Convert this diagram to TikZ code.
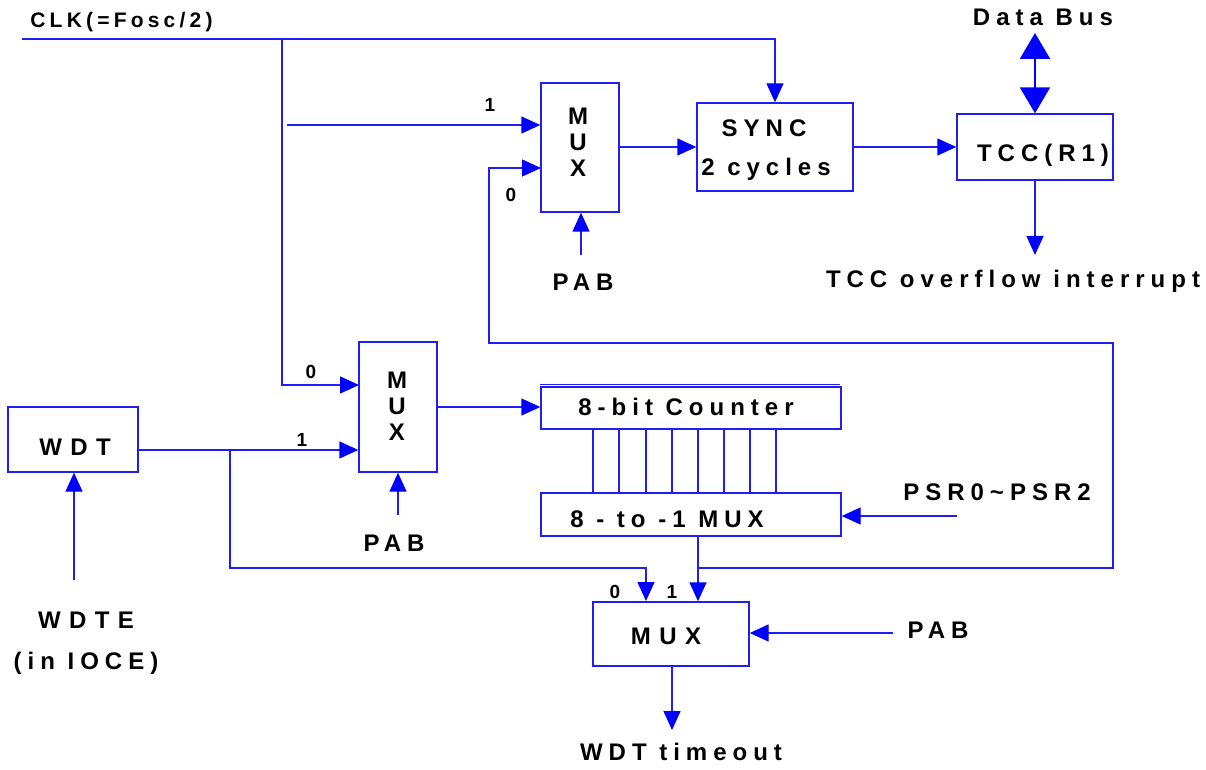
\documentclass[tikz,border=0pt]{standalone}
\usepackage{fontspec}
\usetikzlibrary{arrows.meta}
\newfontfamily\lbf{Liberation Sans}[LetterSpace=25]
\newfontfamily\lbw{Liberation Sans}[LetterSpace=35]
\newfontfamily\lbc{Liberation Sans}[LetterSpace=20]
\newfontfamily\lbs{Liberation Sans}[LetterSpace=10]
\newcommand{\myfbig}{\lbf\bfseries\fontsize{12}{13}\selectfont}
\newcommand{\myfwide}{\lbw\bfseries\fontsize{12}{13}\selectfont}
\newcommand{\myfclk}{\lbc\bfseries\fontsize{10.5}{12}\selectfont}
\newcommand{\myfsml}{\lbs\bfseries\fontsize{9.5}{11}\selectfont}
\tikzset{
  wire/.style={draw={rgb,255:red,30;green,30;blue,245}, line width=0.7pt},
  arr/.style={wire, -{Triangle[length=9.5pt,width=8.5pt,color=blue]}},
  dbarr/.style={draw=blue, line width=1.1pt, {Triangle[length=13pt,width=15pt]}-{Triangle[length=13pt,width=15pt]}},
  box/.style={draw={rgb,255:red,30;green,30;blue,245}, line width=0.7pt, inner sep=0pt, font=\myfbig},
  txt/.style={font=\myfbig, inner sep=0pt, text=black},
  wtxt/.style={font=\myfwide, inner sep=0pt, text=black},
  lab/.style={font=\myfsml, inner sep=0pt, text=black}
}
\begin{document}
\begin{tikzpicture}[x=0.5pt,y=-0.5pt]
\useasboundingbox (0,0) rectangle (1206,770);
% boxes
\node[box, minimum width=39pt, minimum height=64.5pt] (mux1) at (580,147.5) {};
\node[txt, align=center] (mux1t) at (578,142) {M\\U\\X};
\node[box, minimum width=78pt, minimum height=44pt] (sync) at (775,147) {};
\node[txt] (synct) at (764,128) {SYNC};
\node[txt] (syncc) at (766,169) {2 cycles};
\node[box, minimum width=78pt, minimum height=33pt] (tcc) at (1035,147) {};
\node[txt] (tcct) at (1043,155) {TCC(R1)};
\node[box, minimum width=39pt, minimum height=65pt] (mux2) at (398,407) {};
\node[txt, align=center] (mux2t) at (397,406) {M\\U\\X};
\node[box, minimum width=65pt, minimum height=32.5pt] (wdt) at (73,439.5) {};
\node[wtxt] (wdtt) at (75,447) {WDT};
\node[box, minimum width=150pt, minimum height=21pt] (cnt) at (691,408) {};
\draw[wire] (cnt.north west) ++(0,-2) -- ++(300,0);
\node[txt] (cntt) at (686,407) {8-bit Counter};
\node[box, minimum width=150pt, minimum height=21.5pt] (mux8) at (691,514.5) {};
\node[txt] (mux8t) at (667,519) {8 - to -1 MUX};
\node[box, minimum width=78pt, minimum height=32pt] (mux3) at (671,634) {};
\node[wtxt] (mux3t) at (666,636) {MUX};
% texts
\node[txt, font=\myfclk, anchor=west] (clk) at (30,22) {CLK(=Fosc/2)};
\node[txt] (dbus) at (1043,17) {Data Bus};
\node[lab] (l1a) at (490,105) {1};
\node[lab] (l0a) at (511,195) {0};
\node[txt] (pab1t) at (583,282) {PAB};
\node[txt] (ovft) at (1013,281) {TCC overflow interrupt};
\node[lab] (l0b) at (311,372) {0};
\node[lab] (l1b) at (302,440) {1};
\node[txt] (pab2t) at (394,543) {PAB};
\node[wtxt] (wdtet) at (86,620) {WDTE};
\node[txt] (iocet) at (86,663) {(in IOCE)};
\node[txt] (psrt) at (997,492) {PSR0\textasciitilde PSR2};
\node[lab] (l0c) at (615,592) {0};
\node[lab] (l1c) at (672,592) {1};
\node[txt] (pab3t) at (938,630) {PAB};
\node[txt] (wtot) at (681,752) {WDT timeout};
% coordinates
\coordinate (clk0) at (22,39);
\coordinate (j1) at (282,39);
\coordinate (m2in0) at (359,385);
\coordinate (t1s) at (287,125);
\coordinate (m1in0) at (541,168);
\coordinate (j8) at (698,568);
\coordinate (fb1) at (1113,568);
\coordinate (fb2) at (489,343);
\coordinate (db) at (1035,33);
\coordinate (ovf) at (1035,255);
\coordinate (pab1) at (581,255);
\coordinate (wo) at (138,450);
\coordinate (j2) at (230,450);
\coordinate (m3in0) at (646,601);
\coordinate (wdte) at (74,580);
\coordinate (pab2) at (398,515);
\coordinate (psr) at (957,516);
\coordinate (pab3) at (893,633);
\coordinate (wto) at (672,730);
% connectors
\draw[arr] (clk0) -| (sync.north);
\draw[arr] (j1) |- (m2in0);
\draw[arr] (t1s) -- (t1s -| mux1.west);
\draw[arr] (j8) -- (fb1) -- (fb1 |- fb2) -- (fb2) |- (m1in0);
\draw[arr] (mux1.east |- sync.west) -- (sync.west);
\draw[arr] (sync.east) -- (tcc.west);
\draw[dbarr] (db) -- (tcc.north);
\draw[arr] (tcc.south) -- (ovf);
\draw[arr] (pab1) -- (pab1 |- mux1.south);
\draw[arr] (mux2.east) -- (mux2.east -| cnt.west);
\draw[arr] (wo) -- (wo -| mux2.west);
\draw[arr] (j2) -- (j2 |- j8) -- (m3in0 |- j8) -- (m3in0);
\draw[arr] (wdte) -- (wdte |- wdt.south);
\draw[arr] (pab2) -- (pab2 |- mux2.south);
\foreach \x in {593,619,646,672,698,724,750,776}
  \draw[wire] (\x,429) -- (\x,493);
\draw[arr] (j8 |- mux8.south) -- (j8 |- mux3.north);
\draw[arr] (psr) -- (psr -| mux8.east);
\draw[arr] (pab3) -- (pab3 -| mux3.east);
\draw[arr] (wto |- mux3.south) -- (wto);
\end{tikzpicture}
\end{document}
